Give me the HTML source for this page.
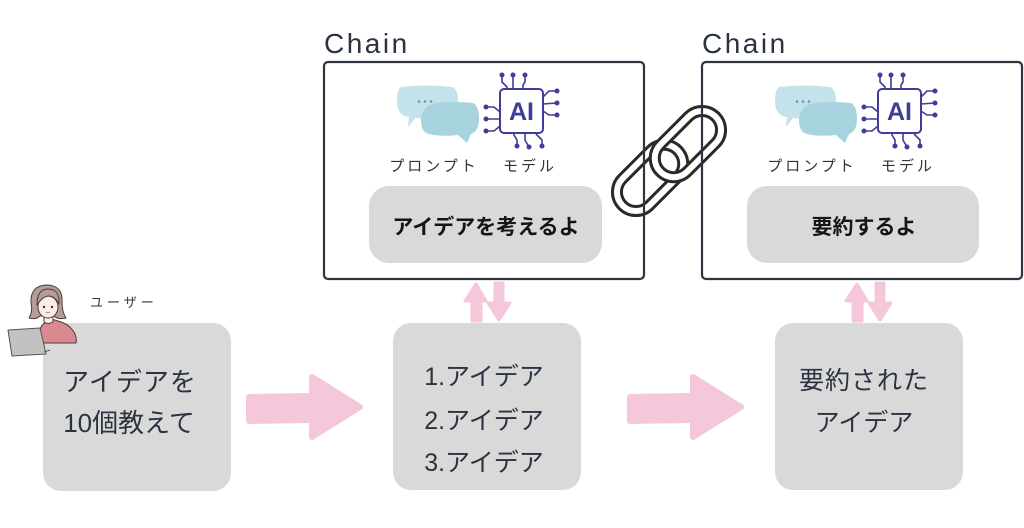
<!DOCTYPE html>
<html>
<head>
<meta charset="utf-8">
<style>
  html,body{margin:0;padding:0;background:#fff;}
  body{width:1024px;height:528px;overflow:hidden;}
  svg{display:block;}
  .jp{font-family:"Liberation Sans","Noto Sans CJK JP",sans-serif;}
</style>
</head>
<body>
<svg width="1024" height="528" viewBox="0 0 1024 528" xmlns="http://www.w3.org/2000/svg">
  <rect width="1024" height="528" fill="#fff"/>

  <!-- Chain link icon -->
  <g fill="none" stroke-linejoin="round">
    <g transform="translate(650.1,177.9) rotate(-45)">
      <path d="M-20,-19 L20,-19 A19,19 0 0 1 20,19 L-20,19 A19,19 0 0 1 -20,-19 Z" stroke="#2a2a2a" stroke-width="12"/>
      <path d="M-20,-19 L20,-19 A19,19 0 0 1 20,19 L-20,19 A19,19 0 0 1 -20,-19 Z" stroke="#fff" stroke-width="6"/>
    </g>
    <g transform="translate(687.9,144.1) rotate(-45)">
      <path d="M-20,-19 L20,-19 A19,19 0 0 1 20,19 L-20,19 A19,19 0 0 1 -20,-19 Z" stroke="#2a2a2a" stroke-width="12"/>
      <path d="M-20,-19 L20,-19 A19,19 0 0 1 20,19 L-20,19 A19,19 0 0 1 -20,-19 Z" stroke="#fff" stroke-width="6"/>
    </g>
  </g>

  <!-- Chain boxes -->
  <rect x="324" y="62" width="320" height="217" rx="4" fill="none" stroke="#2e3440" stroke-width="2.2"/>
  <rect x="702" y="62" width="320" height="217" rx="4" fill="none" stroke="#2e3440" stroke-width="2.2"/>
  <text x="324" y="53" class="jp" font-size="28" letter-spacing="2.5" fill="#2b3240">Chain</text>
  <text x="702" y="53" class="jp" font-size="28" letter-spacing="2.5" fill="#2b3240">Chain</text>

  <!-- Inner icons: box 1 -->
  <g>
    <path d="M401,87 Q426,84 452,87 Q458,89 458,101 Q458,114 451,117 Q430,120 415,118 L408,127 L409,117 Q398,116 397,103 Q397,89 401,87 Z" fill="#c4e2ea"/>
    <path d="M436,103 Q455,101 473,103 Q479,106 479,119 Q479,131 471,134 L467,143 L458,135 Q441,137 429,134 Q421,132 421,121 Q421,106 436,103 Z" fill="#a6d3dd"/>
    <circle cx="419" cy="101.5" r="1.3" fill="#6f93ab"/>
    <circle cx="425" cy="101.5" r="1.3" fill="#6f93ab"/>
    <circle cx="431" cy="101.5" r="1.3" fill="#6f93ab"/>
    <g stroke="#3f3d96" stroke-width="1.6" fill="none">
      <path d="M502,75 L502,82 L507,87 L507,89 M513,75 L513,89 M525,75 L525,82 L523,85 L523,89"/>
      <path d="M557,91 L549,91 L543,97 M557,103 L543,104 M557,115 L549,115 L543,111"/>
      <path d="M486,107 L494,107 L500,112 M486,119 L500,119 M486,131 L494,131 L500,126"/>
      <path d="M517,146 L517,140 L514,135 L514,133 M529,147 L525,140 L525,133 M542,146 L542,140 L536,134"/>
    </g>
    <g fill="#3f3d96">
      <circle cx="502" cy="75" r="2.5"/><circle cx="513" cy="75" r="2.5"/><circle cx="525" cy="75" r="2.5"/>
      <circle cx="557" cy="91" r="2.5"/><circle cx="557" cy="103" r="2.5"/><circle cx="557" cy="115" r="2.5"/>
      <circle cx="486" cy="107" r="2.5"/><circle cx="486" cy="119" r="2.5"/><circle cx="486" cy="131" r="2.5"/>
      <circle cx="517" cy="146" r="2.5"/><circle cx="529" cy="147" r="2.5"/><circle cx="542" cy="146" r="2.5"/>
    </g>
    <rect x="500" y="89" width="43" height="44" rx="4" fill="#fff" stroke="#3f3d96" stroke-width="2"/>
    <text x="521.5" y="120" text-anchor="middle" class="jp" font-size="25" font-weight="bold" fill="#3f3d96">AI</text>
    <text x="434" y="171" text-anchor="middle" class="jp" font-size="15" letter-spacing="3" fill="#333">プロンプト</text>
    <text x="530" y="171" text-anchor="middle" class="jp" font-size="15" letter-spacing="3" fill="#333">モデル</text>
  </g>

  <!-- Inner icons: box 2 -->
  <g transform="translate(378,0)">
    <path d="M401,87 Q426,84 452,87 Q458,89 458,101 Q458,114 451,117 Q430,120 415,118 L408,127 L409,117 Q398,116 397,103 Q397,89 401,87 Z" fill="#c4e2ea"/>
    <path d="M436,103 Q455,101 473,103 Q479,106 479,119 Q479,131 471,134 L467,143 L458,135 Q441,137 429,134 Q421,132 421,121 Q421,106 436,103 Z" fill="#a6d3dd"/>
    <circle cx="419" cy="101.5" r="1.3" fill="#6f93ab"/>
    <circle cx="425" cy="101.5" r="1.3" fill="#6f93ab"/>
    <circle cx="431" cy="101.5" r="1.3" fill="#6f93ab"/>
    <g stroke="#3f3d96" stroke-width="1.6" fill="none">
      <path d="M502,75 L502,82 L507,87 L507,89 M513,75 L513,89 M525,75 L525,82 L523,85 L523,89"/>
      <path d="M557,91 L549,91 L543,97 M557,103 L543,104 M557,115 L549,115 L543,111"/>
      <path d="M486,107 L494,107 L500,112 M486,119 L500,119 M486,131 L494,131 L500,126"/>
      <path d="M517,146 L517,140 L514,135 L514,133 M529,147 L525,140 L525,133 M542,146 L542,140 L536,134"/>
    </g>
    <g fill="#3f3d96">
      <circle cx="502" cy="75" r="2.5"/><circle cx="513" cy="75" r="2.5"/><circle cx="525" cy="75" r="2.5"/>
      <circle cx="557" cy="91" r="2.5"/><circle cx="557" cy="103" r="2.5"/><circle cx="557" cy="115" r="2.5"/>
      <circle cx="486" cy="107" r="2.5"/><circle cx="486" cy="119" r="2.5"/><circle cx="486" cy="131" r="2.5"/>
      <circle cx="517" cy="146" r="2.5"/><circle cx="529" cy="147" r="2.5"/><circle cx="542" cy="146" r="2.5"/>
    </g>
    <rect x="500" y="89" width="43" height="44" rx="4" fill="#fff" stroke="#3f3d96" stroke-width="2"/>
    <text x="521.5" y="120" text-anchor="middle" class="jp" font-size="25" font-weight="bold" fill="#3f3d96">AI</text>
    <text x="434" y="171" text-anchor="middle" class="jp" font-size="15" letter-spacing="3" fill="#333">プロンプト</text>
    <text x="530" y="171" text-anchor="middle" class="jp" font-size="15" letter-spacing="3" fill="#333">モデル</text>
  </g>

  <!-- Inner gray boxes -->
  <rect x="369" y="186" width="233" height="77" rx="20" fill="#d9d9d9"/>
  <rect x="747" y="186" width="232" height="77" rx="20" fill="#d9d9d9"/>
  <text x="486" y="234" text-anchor="middle" class="jp" font-size="21" font-weight="bold" fill="#151515">アイデアを考えるよ</text>
  <text x="864" y="234" text-anchor="middle" class="jp" font-size="21" font-weight="bold" fill="#151515">要約するよ</text>

  <!-- Big gray boxes -->
  <rect x="43" y="323" width="188" height="168" rx="18" fill="#d9d9d9"/>
  <rect x="393" y="323" width="188" height="167" rx="18" fill="#d9d9d9"/>
  <rect x="775" y="323" width="188" height="167" rx="18" fill="#d9d9d9"/>

  <g class="jp" fill="#2b3240" text-anchor="middle">
    <text x="130" y="391" font-size="26" letter-spacing="1">アイデアを</text>
    <text x="129" y="432" font-size="26">10個教えて</text>
    <text x="484" y="385" font-size="25">1.アイデア</text>
    <text x="484" y="429" font-size="25">2.アイデア</text>
    <text x="484" y="471" font-size="25">3.アイデア</text>
    <text x="864" y="389" font-size="25" letter-spacing="1">要約された</text>
    <text x="864" y="431" font-size="25">アイデア</text>
  </g>

  <!-- Big pink arrows -->
  <g fill="#f5c7da" stroke="#f5c7da" stroke-width="6" stroke-linejoin="round">
    <polygon points="249,397 312,396 312,377 360,407 312,437 312,420 249,421"/>
    <polygon points="630,397 693,396 693,377 741,407 693,437 693,420 630,421"/>
  </g>

  <!-- Small up/down arrows -->
  <g fill="#f5c7da" stroke="#f5c7da" stroke-width="3" stroke-linejoin="round">
    <polygon points="476,284 486,301 481,301 481,321 472,321 472,301 465,301"/>
    <polygon points="495,283 503,283 503,303 510,303 499,320 488,303 495,303"/>
    <polygon points="857,284 867,301 862,301 862,321 853,321 853,301 846,301"/>
    <polygon points="876,283 884,283 884,303 891,303 880,320 869,303 876,303"/>
  </g>

  <!-- User person -->
  <g stroke="#4a3c3c" stroke-width="1" stroke-linejoin="round">
    <path d="M31,303 Q30,286 46,285 Q63,285 62,302 Q62,312 66,318 Q58,320 54,316 L40,316 Q36,320 29,318 Q33,312 31,303 Z" fill="#b59c97"/>
    <path d="M38,343 Q38,326 46,322 Q52,318 58,321 Q70,324 75,334 Q77,340 76,343 Z" fill="#d9898f"/>
    <path d="M44,317 L44,322 Q48,325 53,322 L53,317 Z" fill="#fbeee8"/>
    <ellipse cx="48" cy="307" rx="10" ry="11" fill="#fbeee8"/>
    <path d="M37,305 Q37,289 48,289 Q60,289 59,304 Q55,296 48,296 Q42,297 37,305 Z" fill="#b59c97"/>
    <polygon points="8,330 40,328 46,354 12,356" fill="#c2c2c2" stroke="#555"/>
    <path d="M44,352 L50,350" stroke="#555" fill="none"/>
  </g>
  <circle cx="44" cy="307" r="1.2" fill="#333"/>
  <circle cx="52" cy="307" r="1.2" fill="#333"/>
  <path d="M46,312 Q48,313 50,312" stroke="#a66" stroke-width="0.8" fill="none"/>
  <text x="90" y="307" class="jp" font-size="13" letter-spacing="4" fill="#333">ユーザー</text>
</svg>
</body>
</html>
